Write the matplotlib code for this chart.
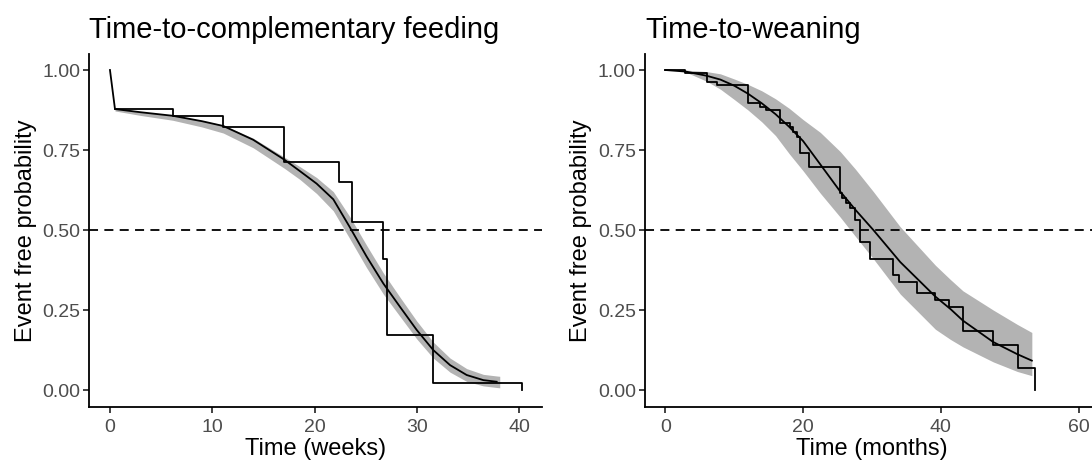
import matplotlib
matplotlib.use("Agg")
import matplotlib.pyplot as plt

plt.rcParams['font.family'] = ['Liberation Sans', 'DejaVu Sans']

# ---------------- Left panel: time-to-complementary feeding (weeks) ----------------
cf_km_time = [0.49, 6.13, 11.08, 17.04, 22.42, 23.62, 26.72, 27.05, 31.6, 40.26]
cf_km_surv = [0.877, 0.856, 0.822, 0.714, 0.651, 0.526, 0.411, 0.172, 0.023, 0.0]

cf_fit_time = [0.0, 0.49, 3.0, 6.13, 9.0, 11.08, 14.0, 17.04, 18.57, 20.2, 21.83,
               23.46, 25.09, 26.72, 28.35, 29.98, 31.6, 33.24, 34.87, 36.5, 37.8]
cf_fit_surv = [1.0, 0.878, 0.868, 0.857, 0.840, 0.825, 0.782, 0.720, 0.684, 0.645, 0.596,
               0.508, 0.417, 0.333, 0.260, 0.188, 0.125, 0.078, 0.047, 0.031, 0.026]

cf_band_time = [0.49, 3.0, 6.13, 9.0, 11.08, 14.0, 17.04, 18.57, 20.2, 21.83,
                23.46, 25.09, 26.72, 28.35, 29.98, 31.6, 33.24, 34.87, 36.5, 37.8, 38.1]
cf_band_low = [0.872, 0.858, 0.843, 0.822, 0.803, 0.757, 0.693, 0.658, 0.614, 0.560,
               0.472, 0.382, 0.300, 0.230, 0.160, 0.100, 0.056, 0.027, 0.013, 0.008, 0.007]
cf_band_high = [0.882, 0.870, 0.858, 0.842, 0.828, 0.787, 0.728, 0.698, 0.664, 0.620,
                0.541, 0.452, 0.366, 0.290, 0.216, 0.150, 0.100, 0.067, 0.049, 0.044, 0.043]

# ---------------- Right panel: time-to-weaning (months) ----------------
wn_km_time = [0.0, 2.9, 6.05, 7.5, 12.0, 13.8, 14.6, 16.6, 18.14, 18.6, 19.1, 19.6, 20.9,
              25.4, 25.7, 26.2, 26.8, 27.6, 28.2, 29.76, 33.05, 33.87, 36.5, 39.2,
              41.2, 43.15, 47.51, 51.14, 53.7]
wn_km_surv = [1.0, 0.990, 0.964, 0.953, 0.896, 0.885, 0.875, 0.833, 0.823, 0.807, 0.792,
              0.740, 0.698, 0.615, 0.599, 0.585, 0.568, 0.531, 0.464, 0.408, 0.359,
              0.339, 0.302, 0.281, 0.258, 0.185, 0.141, 0.068, 0.0]

wn_fit_time = [0.0, 3.0, 6.0, 8.0, 10.0, 12.0, 14.0, 16.0, 18.0, 20.0, 22.5, 25.4,
               27.6, 30.2, 34.1, 39.2, 41.4, 43.2, 47.6, 51.1, 53.2]
wn_fit_surv = [1.0, 0.995, 0.982, 0.970, 0.951, 0.926, 0.896, 0.862, 0.822, 0.778,
               0.705, 0.620, 0.563, 0.500, 0.400, 0.292, 0.253, 0.217, 0.150, 0.112, 0.092]

wn_band_time = [2.8, 6.0, 8.0, 10.0, 12.0, 14.0, 16.0, 18.0, 20.0, 22.5, 25.4, 27.6,
                30.2, 34.1, 39.2, 41.4, 43.2, 47.6, 51.1, 53.2]
wn_band_low = [0.995, 0.965, 0.940, 0.908, 0.875, 0.838, 0.795, 0.738, 0.685, 0.615,
               0.540, 0.480, 0.410, 0.300, 0.190, 0.158, 0.135, 0.088, 0.058, 0.045]
wn_band_high = [1.0, 0.995, 0.988, 0.972, 0.955, 0.935, 0.910, 0.880, 0.845, 0.805,
                0.745, 0.690, 0.620, 0.510, 0.390, 0.345, 0.310, 0.250, 0.205, 0.180]

y_ticks = [0.0, 0.25, 0.5, 0.75, 1.0]
y_ticklabels = ["0.00", "0.25", "0.50", "0.75", "1.00"]
cf_xticks = [0, 10, 20, 30, 40]
wn_xticks = [0, 20, 40, 60]

titles = ["Time-to-complementary feeding", "Time-to-weaning"]
xlabels = ["Time (weeks)", "Time (months)"]
ylabel = "Event free probability"

W, H = 1092, 465
fig = plt.figure(figsize=(W / 100, H / 100), dpi=100)

BAND = "#B3B3B3"
TICKC = "#4D4D4D"
LW = 1.3


def style(ax, xlim, xticks, title, xlabel):
    for s in ["top", "right"]:
        ax.spines[s].set_visible(False)
    for s in ["left", "bottom"]:
        ax.spines[s].set_linewidth(LW)
        ax.spines[s].set_color("black")
    ax.set_xlim(*xlim)
    ax.set_ylim(-0.052, 1.05)
    ax.set_xticks(xticks)
    ax.set_yticks(y_ticks)
    ax.set_yticklabels(y_ticklabels)
    ax.tick_params(axis="both", colors="#333333", width=LW, labelsize=14,
                   labelcolor=TICKC)
    ax.tick_params(axis="x", length=4.6, pad=4.0)
    ax.tick_params(axis="y", length=4.0, pad=2.5)
    ax.set_title(title, loc="left", fontsize=21, pad=11.5, color="black")
    ax.set_xlabel(xlabel, fontsize=17, labelpad=2.0, color="black")
    ax.set_ylabel(ylabel, fontsize=17, labelpad=4, color="black")
    ax.axhline(0.5, color="black", lw=LW, dashes=(5.0, 3.5), zorder=4)


# Left panel
ax1 = fig.add_axes([89.3 / W, (H - 406.7) / H, (542.4 - 89.3) / W, (406.7 - 54) / H])
ax1.fill_between(cf_band_time, cf_band_low, cf_band_high, color=BAND, lw=0, zorder=1)
ax1.plot(cf_fit_time, cf_fit_surv, color="black", lw=LW, zorder=3)
ax1.step(cf_km_time, cf_km_surv, where="post", color="black", lw=LW, zorder=3)
style(ax1, (-2.02, 42.27), cf_xticks, titles[0], xlabels[0])

# Right panel (extends past right edge of the figure, as in the reference)
ax2 = fig.add_axes([645 / W, (H - 406.7) / H, (1099 - 645) / W, (406.7 - 54) / H])
ax2.fill_between(wn_band_time, wn_band_low, wn_band_high, color=BAND, lw=0, zorder=1)
ax2.plot(wn_fit_time, wn_fit_surv, color="black", lw=LW, zorder=3)
ax2.step(wn_km_time, wn_km_surv, where="post", color="black", lw=LW, zorder=3)
style(ax2, (-2.95, 62.95), wn_xticks, titles[1], xlabels[1])

fig.savefig("out.png", dpi=100)
